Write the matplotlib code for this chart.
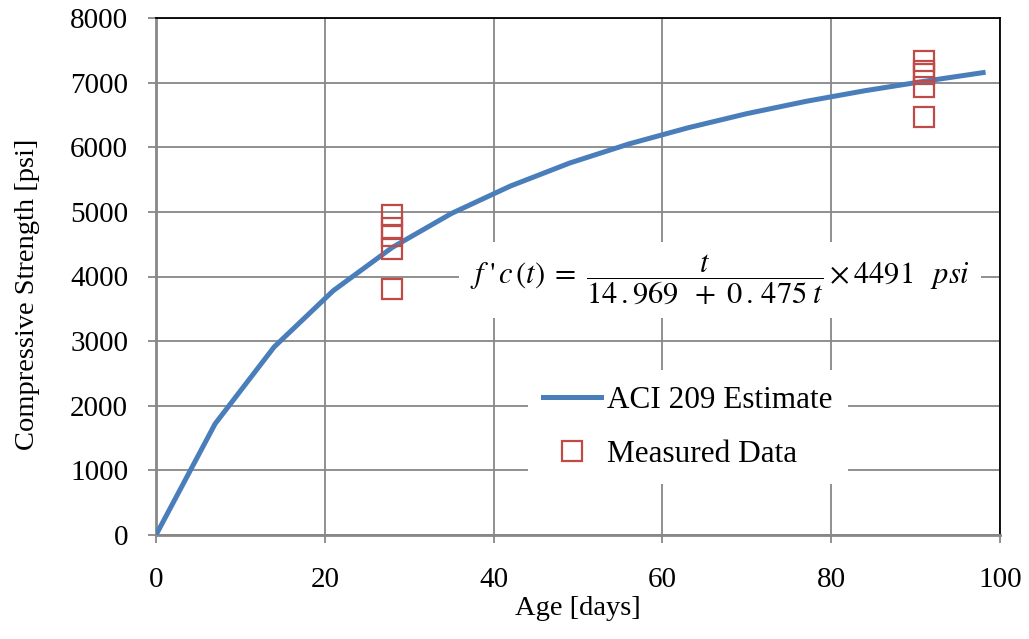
import numpy as np
import matplotlib
matplotlib.use("Agg")
import matplotlib.pyplot as plt

plt.rcParams['font.family'] = ['Liberation Serif', 'DejaVu Serif']
plt.rcParams['mathtext.fontset'] = 'stix'

# ACI 209 estimate curve
age_est = [0, 7, 14, 21, 28, 35, 42, 49, 56, 63, 70, 77, 84, 91, 98]
fc_est = [0, 1720, 2910, 3780, 4450, 4975, 5400, 5755, 6050, 6300, 6520, 6710, 6875, 7020, 7155]

# measured cylinders
age_meas = [28, 28, 28, 28, 28, 91, 91, 91, 91, 91]
fc_meas = [4955, 4755, 4620, 4420, 3810, 7340, 7180, 7130, 6940, 6470]

blue = '#4A7EBB'
red = '#BE4B48'
grid_c = '#878787'

fig = plt.figure(figsize=(10.29, 6.39), dpi=100)
ax = fig.add_axes([156/1029, 1-535/639, 844/1029, 517/639])

ax.plot(age_est, fc_est, color=blue, lw=3.6, label='ACI 209 Estimate', zorder=3)
ax.plot(age_meas, fc_meas, ls='none', marker='s', ms=14.5, mfc='none', mec=red, mew=1.6,
        label='Measured Data', zorder=4)

ax.set_xlim(0, 100)
ax.set_ylim(0, 8000)
ax.set_xticks(np.arange(0, 101, 20))
ax.set_yticks(np.arange(0, 8001, 1000))
ax.grid(True, color=grid_c, lw=1.3)
ax.set_axisbelow(True)
ax.tick_params(labelsize=21, color=grid_c, length=6, width=1.3, direction='out', pad=14)
ax.tick_params(axis='x', pad=17)
for s in ['left', 'bottom']:
    ax.spines[s].set_color(grid_c)
    ax.spines[s].set_linewidth(2)
for s in ['top', 'right']:
    ax.spines[s].set_color('black')
    ax.spines[s].set_linewidth(1.3)

ax.set_xlabel('Age [days]', fontsize=20.5)
ax.set_ylabel('Compressive Strength [psi]', fontsize=20.5)
ax.xaxis.set_label_coords(0.5, -0.118)
ax.yaxis.set_label_coords(-0.137, 0.466)

ax.text(66.8, 3950,
        r"$f\;\text{'}\,c\,(t)\;=\;\dfrac{t}{14\,.969\;\;+\;0\,.\,475\;t}\times 4491\;\;\;psi$",
        fontsize=22, ha='center', va='center', zorder=5,
        bbox=dict(facecolor='white', edgecolor='none', pad=8))

leg = ax.legend(loc='center', bbox_to_anchor=(688/1029, 1-427/639),
                bbox_transform=fig.transFigure, fontsize=22.5, frameon=True,
                handlelength=1.85, handletextpad=0.2, labelspacing=0.8, borderpad=0.5)
leg.get_frame().set_facecolor('white')
leg.get_frame().set_edgecolor('none')
leg.get_frame().set_alpha(1)

fig.savefig('out.png', dpi=100)
